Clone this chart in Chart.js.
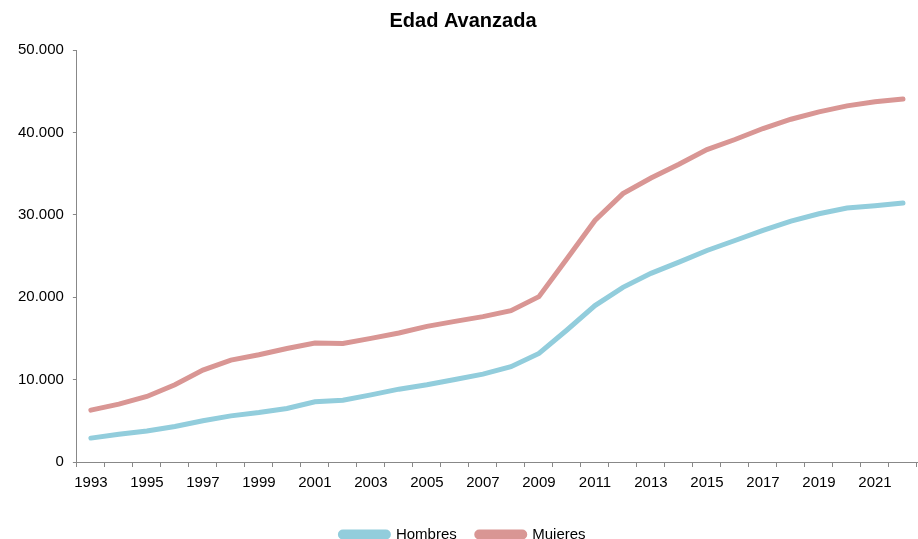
<!DOCTYPE html>
<html>
<head>
<meta charset="utf-8">
<script src="https://cdn.jsdelivr.net/npm/chart.js@4/dist/chart.umd.min.js"></script>
<style>
    body { margin: 0; background: #fff; }
    #wrap { width: 918px; height: 539px; position: relative; }
</style>
</head>
<body>
<div id="wrap"><canvas id="myChart"></canvas></div>
<script>
const years = [1993, 1994, 1995, 1996, 1997, 1998, 1999, 2000, 2001, 2002,
    2003, 2004, 2005, 2006, 2007, 2008, 2009, 2010, 2011, 2012,
    2013, 2014, 2015, 2016, 2017, 2018, 2019, 2020, 2021, 2022];

const hombres = [2900, 3370, 3770, 4300, 5000, 5600, 6000, 6500, 7300, 7500,
    8150, 8840, 9370, 10010, 10670, 11560, 13180, 16020, 18980, 21200,
    22900, 24250, 25670, 26880, 28100, 29230, 30130, 30820, 31100, 31420];

const mujeres = [6290, 7020, 7950, 9370, 11150, 12370, 13020, 13780, 14440, 14390,
    15000, 15650, 16460, 17070, 17640, 18370, 20070, 24660, 29320, 32570,
    34470, 36130, 37920, 39140, 40470, 41600, 42490, 43220, 43710, 44040];

const seriesNames = ['Hombres', 'Muieres'];
const yTicks = [0, 10000, 20000, 30000, 40000, 50000];

Chart.defaults.font.family = '"Liberation Sans", Arial, sans-serif';
Chart.defaults.color = '#000';

function fmt(v) {
    return String(v).replace(/\B(?=(\d{3})+(?!\d))/g, '.');
}

const chartCtx = document.getElementById('myChart');
const chart = new Chart(chartCtx, {
    type: 'line',
    data: {
        labels: years.map(String),
        datasets: [
            {
                label: seriesNames[0],
                data: hombres,
                borderColor: '#92cddc',
                backgroundColor: '#92cddc',
                borderWidth: 5,
                pointRadius: 0,
                borderCapStyle: 'round',
                tension: 0
            },
            {
                label: seriesNames[1],
                data: mujeres,
                borderColor: '#d99694',
                backgroundColor: '#d99694',
                borderWidth: 5,
                pointRadius: 0,
                borderCapStyle: 'round',
                tension: 0
            }
        ]
    },
    options: {
        responsive: true,
        maintainAspectRatio: false,
        animation: false,
        layout: { padding: { left: 9, right: 1, top: 0, bottom: -13 } },
        plugins: {
            title: {
                display: true,
                text: 'Edad Avanzada',
                font: { size: 20, weight: 'bold' },
                padding: { top: 9, bottom: 17 }
            },
            legend: {
                position: 'bottom',
                labels: {
                    boxWidth: 48,
                    boxHeight: 5,
                    padding: 20,
                    useBorderRadius: true,
                    borderRadius: 2.5,
                    font: { size: 15 }
                }
            },
            tooltip: { enabled: false }
        },
        scales: {
            x: {
                offset: true,
                afterFit: axis => { axis.height += 8; },
                grid: {
                    offset: true,
                    drawOnChartArea: false,
                    drawTicks: true,
                    tickLength: 5,
                    color: '#888'
                },
                border: { display: true, color: '#888', width: 1 },
                ticks: {
                    autoSkip: false,
                    maxRotation: 0,
                    font: { size: 15 },
                    padding: 7,
                    callback: function (val, i) {
                        return i % 2 === 0 ? this.getLabelForValue(val) : '';
                    }
                }
            },
            y: {
                min: 0,
                max: 50000,
                afterBuildTicks: axis => { axis.ticks = yTicks.map(v => ({ value: v })); },
                grid: {
                    drawOnChartArea: false,
                    drawTicks: true,
                    tickLength: 4,
                    color: '#888'
                },
                border: { display: true, color: '#888', width: 1 },
                ticks: {
                    font: { size: 15 },
                    padding: 9,
                    callback: v => fmt(v)
                }
            }
        }
    }
});
</script>
</body>
</html>
